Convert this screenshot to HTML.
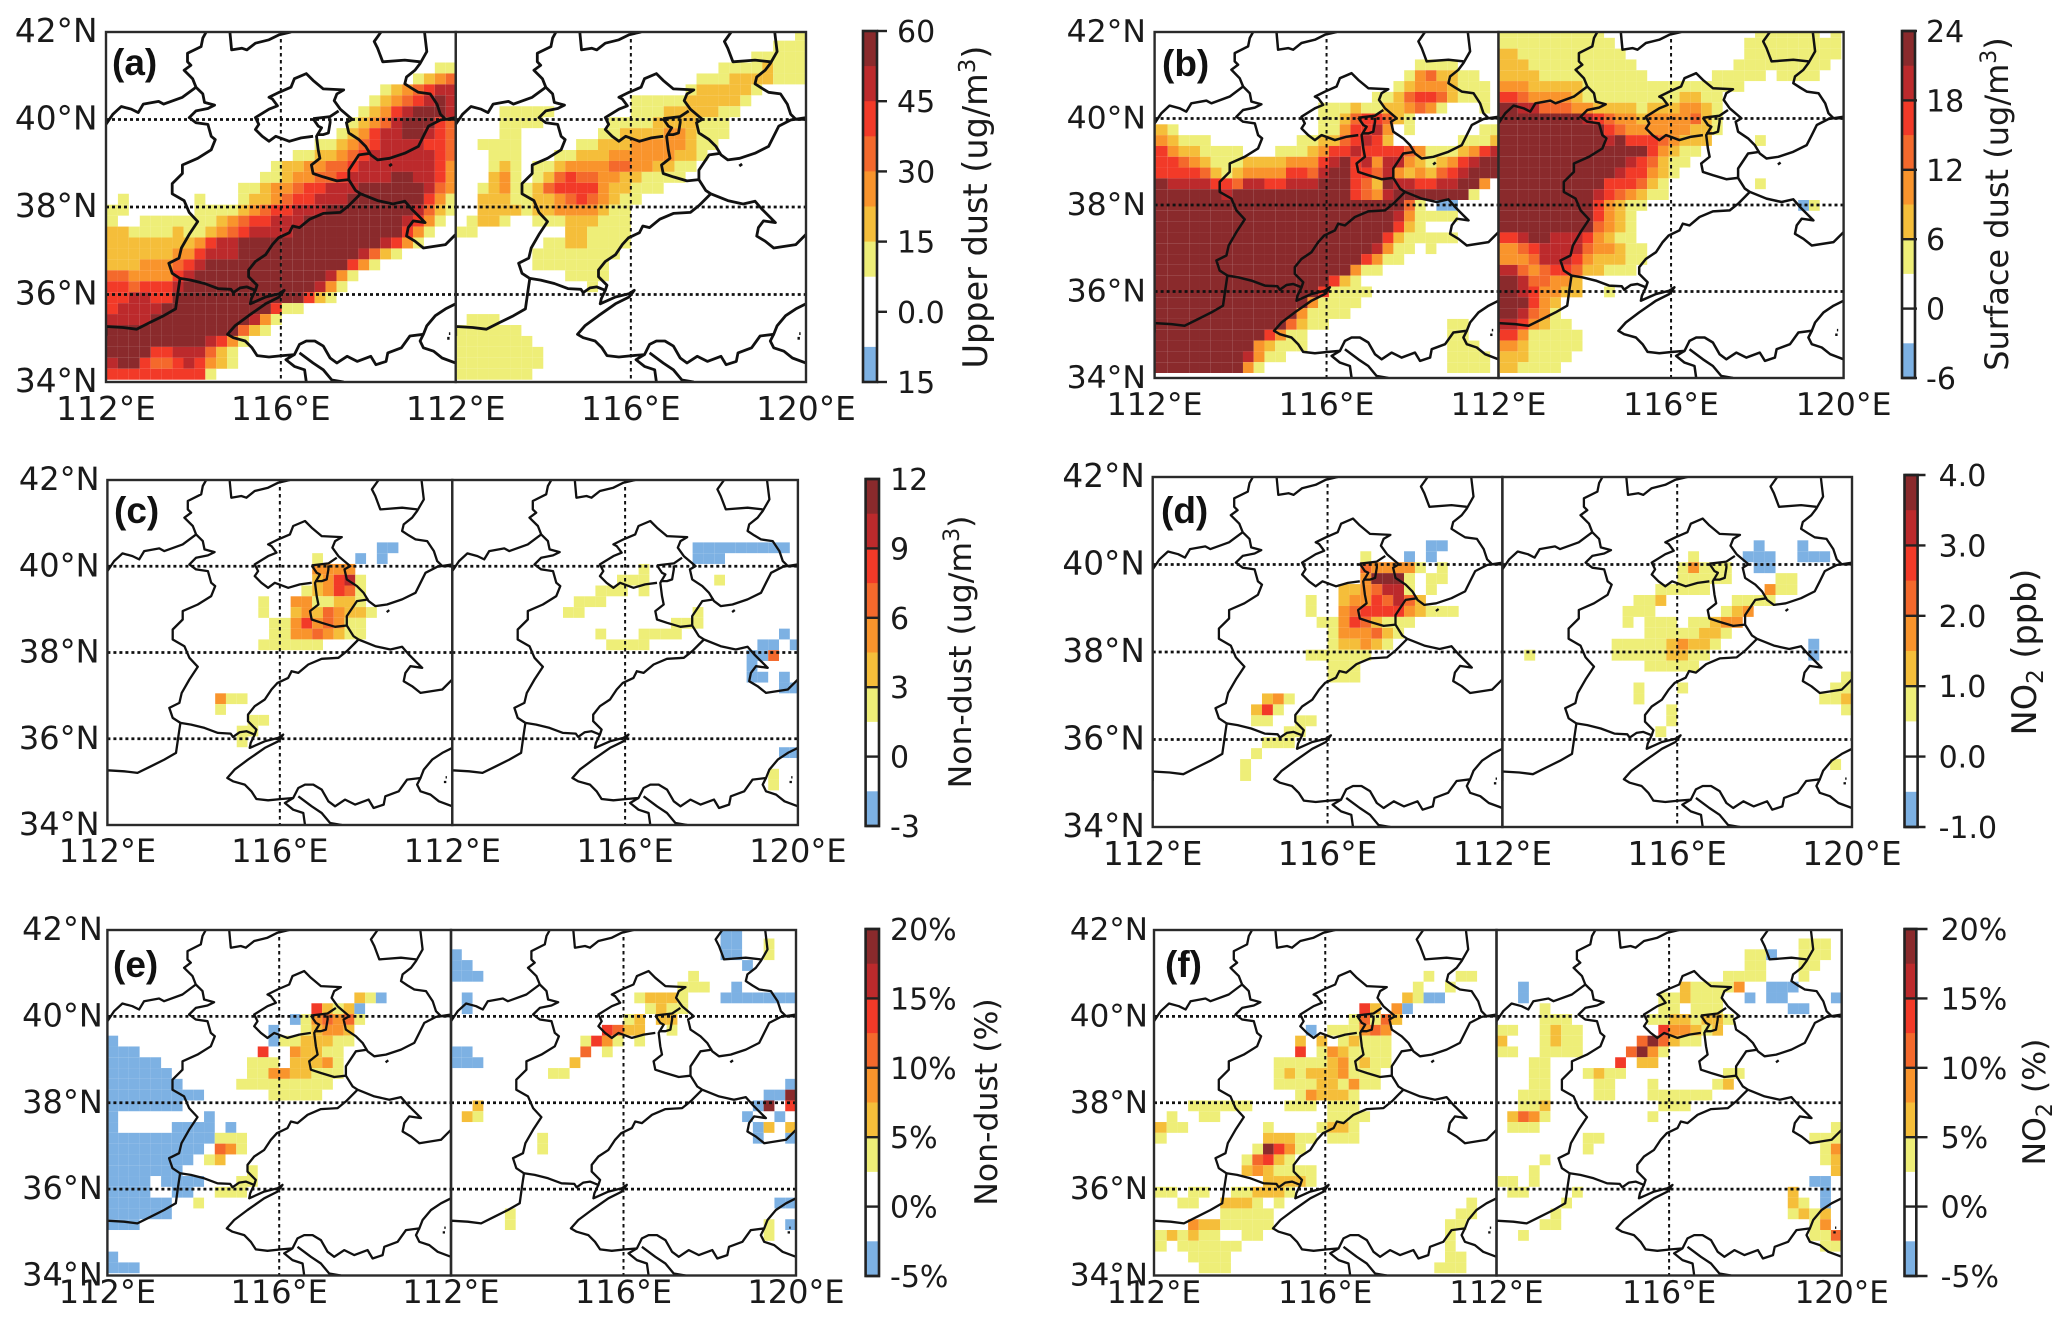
<!DOCTYPE html>
<html lang="en">
<head>
<meta charset="utf-8">
<title>Dust and NO2 difference maps</title>
<style>
html,body{margin:0;padding:0;background:#fff;width:2067px;height:1322px;overflow:hidden}
svg{display:block}
text{font-family:"DejaVu Sans","Liberation Sans",sans-serif;fill:#1a1a1a}
.tag{font-family:"Liberation Sans",sans-serif;font-weight:bold;font-size:37px;fill:#111}
</style>
</head>
<body>
<svg id="figure" xmlns="http://www.w3.org/2000/svg" width="2067" height="1322" viewBox="0 0 2067 1322">
  <rect width="2067" height="1322" fill="#fff"/>
  <g id="plots"></g>
  <text class="tag" x="112" y="75">(a)</text>
  <text class="tag" x="1162" y="76">(b)</text>
  <text class="tag" x="114" y="523">(c)</text>
  <text class="tag" x="1161" y="523">(d)</text>
  <text class="tag" x="113" y="977">(e)</text>
  <text class="tag" x="1165" y="977">(f)</text>
  <text font-size="33.5" text-anchor="middle" transform="translate(987,207) rotate(-90)">Upper dust (ug/m<tspan dy="-12" font-size="23">3</tspan><tspan dy="12">)</tspan></text>
  <text font-size="32" text-anchor="middle" transform="translate(2008,204) rotate(-90)">Surface dust (ug/m<tspan dy="-12" font-size="22">3</tspan><tspan dy="12">)</tspan></text>
  <text font-size="31.5" text-anchor="middle" transform="translate(971,652) rotate(-90)">Non-dust (ug/m<tspan dy="-12" font-size="22">3</tspan><tspan dy="12">)</tspan></text>
  <text font-size="33.5" text-anchor="middle" transform="translate(2036,652) rotate(-90)">NO<tspan dy="7" font-size="23">2</tspan><tspan dy="-7"> (ppb)</tspan></text>
  <text font-size="31.5" text-anchor="middle" transform="translate(997,1102) rotate(-90)">Non-dust (%)</text>
  <text font-size="31.5" text-anchor="middle" transform="translate(2045,1102) rotate(-90)">NO<tspan dy="7" font-size="22">2</tspan><tspan dy="-7"> (%)</tspan></text>
</svg>
<script>
// Heat grids: 32 rows (north to south). Each row lists "column:level" or "from-to:level".
// Levels: 1 yellow ... 7 maroon, 8 blue (negative); unlisted cells are white.
const upperDustLeft = ["","","","30-31:1","28:1 29:2 30:3 31:4","25:1 26:2 27:3 28:4 29:5 30-31:6","24:1 25:2 26:3 27:4 28:5 29:6 30:7 31:6","23:1 24:2 25:3 26:5 27:6 28-30:7 31:6","22:1 23:2 24:3 25:4 26:6 27-29:7 30:5 31:4","21:1 22:2 23:3 24:5 25-26:6 27-28:7 29:6 30:5 31:4","19-20:1 21:2 22:3 23:4 24:5 25-28:6 29-30:5 31:4","17-18:1 19-20:2 21:3 22:4 23:5 24-29:6 30:5 31:4","15:1 16-17:2 18-19:3 20-21:4 22:5 23-29:6 30:5 31:3","14-15:1 16:2 17-18:3 19-20:4 21:5 22-25:6 26-27:7 28-29:6 30:5 31:3","12-13:1 14:2 15-16:3 17:4 18-19:5 20-22:6 23-28:7 29:6 30:4 31:3","1:1 8:1 12:1 13-14:2 15:3 16:4 17-18:5 19-21:6 22-28:7 29:5 30:3 31:1","0-1:1 8-11:1 12:2 13:3 14:4 15-16:5 17-19:6 20-27:7 28:6 29:4 30:2 31:1","0:1 3-9:1 10:2 11:3 12:4 13-14:5 15-17:6 18-26:7 27:6 28:5 29:3 30:1","0-1:2 2-5:1 6:2 7-8:1 9:2 10:3 11:4 12:5 13-16:6 17-26:7 27:5 28:3 29:1","0-7:2 8:3 9:5 10-11:6 12-24:7 25:6 26:5 27:3 28:1","0-5:2 6-7:3 8:5 9-11:6 12-22:7 23:6 24:4 25:2 26:1","0-2:2 3-5:3 6:4 7:5 8:6 9-21:7 22:5 23:3 24:1","0-1:4 2-5:3 6:5 7:6 8-19:7 20:6 21:3 22:1","0-1:5 2:4 3-5:5 6:6 7-18:7 19:6 20:3 21:1","0-1:5 2-3:6 4-5:5 6-17:7 18:5 19:2 20:1","0:5 1-4:6 5-14:7 15:5 16-17:1","0-3:6 4-12:7 13:6 14:3 15:1","0-11:7 12:4 13:2 14:1","0-8:7 9:6 10:5 11:3 12:1","0-3:7 4-5:5 6-8:6 9:4 10:2 11:1","0:6 1-2:7 3:5 4-5:4 6:5 7:6 8:5 9:3 10:2 11:1","0-8:5 9:1"];
const upperDustRight = ["31:1","29-31:1","27-31:1","24-27:1 28:2 29-31:1","22-24:1 25-28:2 29-31:1","21:1 22-26:2 27:1","16-20:1 21-25:2 26:1","4-8:1 16-18:1 19-23:2 24-25:1","4-7:1 14-17:1 18-21:2 22-24:1","4-5:1 13-14:1 15-18:2 19-20:3 21:2 22-24:1","2-5:1 11-12:1 13-15:2 16-20:3 21:2 22-23:1","3:1 4-5:1 9-10:1 11-13:2 14-19:3 20-21:2 22:1","3:1 4:2 5:1 7-8:1 9:2 10-13:3 14-15:4 16-17:3 18-19:2 20-21:1","3:2 4:3 5:1 7:1 8:2 9:4 10:5 11-12:4 13-14:3 15-16:2 17-20:1","2:1 3:2 4:3 5:1 6:1 7:2 8:4 9-12:5 13:3 14-15:2 16-18:1","2-4:2 5:1 6:1 7-8:2 9:3 10:4 11:5 12:4 13:3 14:2 15-16:1","2-5:2 6:1 7-8:2 9-12:3 13:2 14-15:1","1:1 2-3:2 4:1 7-9:1 10-12:2 13-15:1","0-1:1 10-11:2 12-15:1","8-9:1 10-11:2 12-15:1","7-14:1","7-13:1","10-13:1","12:1","","","1-3:1","0-5:1","0-6:1","0-7:1","0-7:1","0-6:1"];
const surfaceDustLeft = ["","","","24-27:1","23:1 24:3 25:4 26-27:2 28-29:1","22:1 23:2 24-26:3 27:2 28-30:1","20-21:1 22:2 23:4 24-25:5 26:4 27:2 28-30:1","15-17:1 18:2 19-20:1 21-22:2 23:3 24:4 25:3 26:1 30:1","15-16:1 17:2 18:4 19-20:5 21:4 22:2 23:1","0:2 1:1 15-16:1 17:3 18-19:5 20:6 21:3 23:1 30-31:1","0:3 1:2 2-4:1 13-14:1 15-16:2 17:4 18:5 19:6 20:5 21:2 28-30:1 31:2","0:5 1:3 2-3:2 4-7:1 11-13:1 14:2 15:3 16-17:5 18:6 19-22:5 23:4 24:3 25-27:1 28:2 29:3 30:5 31:6","0-1:5 2:4 3:3 4:2 5-7:1 8-11:2 12-14:3 15:5 16:6 17:7 18:5 19:6 20:3 21-22:6 23:3 24:2 25:1 26:2 27:3 28:5 29:6 30-31:7","0-3:5 4:4 5:2 6:1 7:2 8-11:3 12-13:5 14:4 15:6 16-17:7 18-19:5 20:4 21:6 22:3 23:2 24:3 25:2 26:4 27:5 28:6 29-31:7","0:7 1-4:6 5-6:5 7:4 8-9:6 10-11:5 12-14:6 15-17:7 18:5 19:4 20:2 21:7 22-23:6 24-25:5 26-27:6 28-29:7 30:3","0-5:7 6:6 7-17:7 18:5 19:4 20:3 21:6 22-28:7 29:1","0-22:7 23:4 24:1 26-27:8","0-21:7 22:6 23:3 24-27:1","0-21:7 22:5 23:2 24:1","0-20:7 21:5 22:2 23-27:1","0-19:7 20:6 21:3 22-23:1 25:1","0-18:7 19:5 20:3 21-22:1","0-17:7 18:3 19-20:1","0-15:7 16:5 17:2 18:1","0-14:7 15:5 16-19:1","0-13:7 14:3 15-18:1","0-12:7 13:3 14-17:1","0-11:7 12:4 13:2 14-15:1 27-28:1","0-9:7 10:5 11:3 12-13:1 27-28:1","0-8:7 9:3 10:2 11-13:1 27-29:1","0-7:7 8:6 9:3 10-11:1 27-30:1","0-7:7 8:3 9:1 27-30:1"];
const surfaceDustRight = ["0-8:1 23-28:1 30:1","0-9:1 22-30:1","0:2 1-10:1 22-30:1","0-1:2 2-11:1 21-29:1","0-2:2 3-12:1 19-23:1 25-28:1","0-1:3 2-6:2 7-21:1","0:5 1:4 2-5:3 6:2 7-15:1 16-17:2 18-19:1","0:7 1-2:6 3-5:4 6-7:3 8-11:2 12:1 13-15:2 16-17:3 18:2 19:1","0-6:7 7:6 8:5 9:4 10-11:3 12:2 13-16:3 17:4 18:2 19:1","0-8:7 9:5 10:4 11-16:3 17-18:2 19:1","0-8:7 9:6 10:7 11-13:5 14:4 15:3 16-18:2 23:1","0-12:7 13:5 14:3 15:2 16-17:1","0-10:7 11:6 12:5 13:4 14:2 15-16:1","0-9:7 10:6 11-12:5 13:3 14:2 15:1","0-8:7 9-11:5 12:4 13:2 14:1 23:1","0-7:7 8:6 9:5 10:4 11:3 12:2 13-14:1","0-7:7 8:5 9:3 10:2 11-12:1 27:8 28:1","0-7:7 8:5 9:3 10:2 11:1","0-7:7 8:4 9:3 10:2 11:1","0:5 1:6 2-3:7 4-6:6 7:5 8:3 9:2 10-11:1","0:3 1:4 2:5 3-6:6 7:4 8-9:3 10:2 11-12:1","0-1:3 2:4 3-5:6 6:5 7:3 8-10:2 11-12:1","0:6 1:4 2:3 3:4 4-5:5 6:4 7-8:2 9-11:1","0:7 1:6 2-3:4 4-5:3 6:2","0:7 1:6 2:5 3-4:3 5-6:2 9:1","0-1:7 2:5 3:3 4:2","0:7 1:6 2:4 3:3 4:1","0:6 1:5 2:3 3:2 4-5:1","0:5 1:3 2-6:1","0:3 1:2 2-6:1","0-1:2 2-5:1","0:2 1-4:1"];
const nonDustLeft = ["","","","","","","25-26:8","19:1 23:8 25:8","19-22:3","19:2 20:3 21:5 22:6 23:1","18:1 19:2 20:3 21:5 22:4 23:1","14:1 17-18:3 19-20:1 21-22:2 23:1","14:1 17:2 18:3 19:2 20:4 21:3 22-23:2 24:1","15-16:1 17:3 18:5 19:3 20:4 21:3 22-23:1","15-16:1 17-18:3 19:4 20:3 21:2 22-23:1","14-18:1 19:1","","","","","10:3 11-12:1","10:1","13-14:1","12-13:1","12:1","","","","","","",""];
const nonDustRight = ["","","","","","","22-30:8","22-24:8","17:1","15-17:1 24:1","13-15:1 17:1","11:1 12-13:1","10-11:1 22:1","20-22:1","13:1 17-20:1 30:8","14-17:1 28-29:8 31:8","27-28:8 29:4","27:8","27-28:8 30:8","30-31:8","","","","","","30-31:8","","29:1","29:1","","",""];
const no2Left = ["","","","","","","25-26:8","19:1 23:8 25:8","19:4 20-23:3 24:1 26:1","19:3 20-22:7 23:1 25-26:1","17-18:2 19:3 20:4 21-22:6 23:1 25:1","14:1 17:2 18-19:3 20:5 21:4 22:6 23:4 24:2","14:1 17:3 18:4 19-22:5 23:3 24:2 25-27:1","15-16:1 17:3 18:5 19:4 20:2 21-23:1","16:1 17-19:3 20:4 21:2 22:1","16:1 17-18:2 19:3 20:2 21:1","14-19:1","16-18:1","16-18:1","","10:2 11:3 12:1","9:2 10:5 11:1","9-10:1 13-14:1","12-13:1","10-12:1","9:1","8:1","8:1","","","",""];
const no2Right = ["","","","","","","23:8 27:8","17:1 22-24:8 27-29:8","16:1 17:3 18-19:1 20:1 23-24:8","16-19:1 20:1 25-26:1","14-18:1 24:3 25-26:1","12-13:1 14:2 21-24:1","11-13:1 20:1 21:2 22:3","11:1 13-15:1 17-18:1 19:2 20-21:3","13-17:1 18-19:2 20:1","10-14:1 15:2 16:3 17-18:2 19:1 28:8","2:1 10-14:1 15-16:2 17-18:1 28:8","13-17:1","31:1","12:1 16:1 30-31:1","12:1 29-30:1 31:2","15:1 31:1","15:1","14:1","","","30:1","","","","",""];
const nonDustPctLeft = ["","","","","","","23:2 24:1 25:8","19:5 20:2 21:1 22:2 23:8","17:8 18:1 19:3 20:4 21:3 22:4 23:1","15:8 18:1 19:2 20-21:3 22:2","0:8 15:8 16-17:1 18-19:2 20:2 21-22:1","0-2:8 14:5 17:3 18-19:2 20-21:1","0-4:8 13-15:1 17-19:2 20:3 21:1","0-5:8 13-14:1 15-16:3 17-18:2 19-21:1","0-6:8 12-20:1","0-8:8 15-19:1","0-6:8","0:8 9:8","0:8 6-9:8 11:8","0-9:8 10-12:1","0-8:8 10:4 11:3 12:1","0-7:8 9:1 10:2","0-6:8 13:1","0-3:8 5-8:8 12-13:1","0-3:8 6-7:8 10-12:1","0-5:8 8:1","0-5:8","0-2:8","","","0:8","0-2:8"];
const nonDustPctRight = ["25-26:8","25-26:8 29:1","0:8 25-26:8 29:1","0-1:8 27:8","0-2:8 22:1","21-23:1 26:8","1:8 17:1 18:2 19-20:2 21:1 25-31:8","1:8 18:1 19:2 20-21:1","16:1 17:2 19:2 20:2","14:5 15:4 16-17:2 20:1","12:1 13:5 14:3 15:1 17:1","0-1:8 12:4 14:1","0-2:8 11:2","9-10:1","31:8","29-30:8 31:7","2:2 28:8 29:7 31:5","1:2 2:1 27:8 30:8","28:8 29:2 31:2","8:1 28:8 31:8","8:1","","","","","30-31:8","5:1","5:1 29:1 31:8","29:1","","",""];
const no2PctLeft = ["","","","","25:1 28-29:1","24:1 27:1","23:2 24:1 25-26:8","19:5 20:2 22:3 23:8","18:1 19:4 20:1 21:4 22:2","14:8 16-18:1 19:3 20:4 21:3","13:2 15:2 17:1 18:2 19-21:1","13:5 15:1 16:3 17:2 18-21:1","11-15:1 16:2 17:3 18:1 19:2 20-21:1","11:1 12:2 13:1 14-16:2 17:3 18-20:1","11-14:1 15-16:2 17:1 18:3 19-20:1","13:1 14:3 15-17:2 18:1","3-8:1 12-14:1 16-18:1","1:1 4-5:1 16-19:1","0:2 1-2:1 10:1 15:1 16-17:2 18:1","0:1 10-12:2 13-14:1 16-18:1","9:1 10:7 11:5 12:3 13:1","8:1 9:4 10:5 11:2 12:1","8:2 9:3 10:2 11-14:1","10-11:2 12-13:2 14:1","0-1:1 3-4:1 7-8:1 9-11:2 12:1","2-3:1 6:2 7-8:2 9:1 11:1 29:1","6-10:1 28-29:1","3:3 4-5:2 6-10:1 27-28:1","0:1 1:2 2:1 3:2 4-5:1 8-9:1 27:1","0:1 2-7:1 27:1","3-6:1 27-28:1","4-6:1 26-28:1"];
const no2PctRight = ["","28-30:1","23-24:1 25:8 28-30:1","23-24:1 28-29:1","21-24:1 28:1","2:8 17:2 18-21:1 22:3 25-27:8","2:8 15-16:1 17:2 18-20:1 23:8 25-26:8 31:8","4:1 15-16:1 18-20:1 27-28:8","4-6:1 14-15:1 16-17:2 18:1 19-20:2 21:1","0-1:1 4:1 5:2 6-7:1 15:5 16-17:3 18:2 19:1 20:2","0:2 4:1 5:2 6-7:1 13:4 14:7 15:4 16:2 17-18:1","0-1:1 4-7:1 12:4 13:7 14:3 15:1","3-4:1 11:5 13-14:2","3-4:1 8:1 9:2 10-11:1 21-22:1","3-4:1 9-10:1 14:1 20:1 21:2","2-4:1 9-10:1 14-19:1","2-3:1 4:2 15-17:1","1:2 2:4 3:3 4:1 14:1","1-3:1 31:1","8-9:1 29-31:1","8:1 30:1 31:3","4:1 30:1 31:2","3:1 31:2","0-1:1 3:1 29-30:8","1-2:1 7:1 27:2 30:8","6:1 27:2 28:1 30:8","5:1 27:1 28:2 29:1 30:2","4-5:1 29:1 30:3","2:1 29-30:1 31:4","30-31:1","",""];

// Administrative boundaries as traced polylines (trace units: x 0-1030 = 112-120E, y 12-1046 = 42-34N).
const boundaryNorthWest = [295,12,285,30,280,55,240,75,240,100,250,110,230,125,255,150,265,175,285,195,290,220,320,228,300,238,265,245,245,265,265,280,300,285,310,320,322,330,310,360,270,385,225,405,225,430,195,460,195,490,230,510,245,545,270,572,245,610,222,650,215,680,185,695,195,725,218,740];
const boundaryWestTop = [0,285,20,255,45,232,75,240,95,250,110,225,155,217,170,225,225,205,265,175];
const boundaryEastWest = [218,740,250,745,290,755,330,770,368,772,375,782,395,768,415,765,440,775,445,760,420,735,420,715,440,690,470,670,490,640,508,620,540,605,550,585,570,590,600,565,640,548,690,545,715,525,735,505,750,490];
const boundarySouthWest = [218,740,212,780,205,830,170,850,130,870,90,890,50,885,0,882,0,910];
const boundaryNarrowStrip = [440,775,428,800,425,815,470,795,510,785,525,775,510,795,470,815,420,850,380,880,358,905,375,915,410,925,430,945,445,968,480,972,520,968,555,965,570,935,590,925,615,925,640,940,660,975,680,990,710,970,740,985,780,970,795,995,825,985,830,960,870,945,895,910,935,905,945,880,970,850,1000,830,1030,815];
const boundaryBottomA = [555,965,530,980,555,1000,585,1010,590,1046];
const boundaryBottomB = [570,960,610,990,640,1010,665,1040,700,1046];
const boundaryBottomRight = [935,905,925,925,935,945,965,955,990,975,1030,990];
const boundaryNorthEast = [1030,270,1000,270,985,255,975,225,955,195,920,190,900,178,880,165,885,145,910,125,925,105,945,70,938,12];
const boundaryNorthEastInner = [925,100,880,95,815,100,800,60,790,40,810,12];
const boundaryTopLoop = [365,12,370,65,400,60,415,65,440,45,480,35,510,20,545,12];
const boundaryBeijing = [610,320,575,325,540,335,500,320,480,335,460,320,440,300,450,285,440,265,480,240,505,230,490,210,480,205,510,190,545,175,555,150,590,135,610,155,640,180,700,183,680,195,672,215,690,240,725,270,708,280,715,310,745,330,765,350,780,375,800,390,835,385,880,370,920,350,935,320,950,290,985,272,1030,265];
const boundaryTianjin = [610,268,660,262,685,245];
const boundaryTianjinInner = [610,268,625,290,635,295,620,320,625,360,630,385,605,405,610,430,640,440,680,452,715,448];
const boundaryTianjinEast = [660,268,660,280,655,310,640,315,620,315];
const boundaryShandongNorth = [715,448,735,480,750,490,800,510,845,520,880,512,900,535,925,560,940,575,905,570,890,590,885,615,910,630,935,650,1000,640,1030,610];
const boundaryBohai = [715,448,715,420,745,375,780,370];
const boundaryIslets = [834,408,842,402];
const boundaryIsletsB = [1005,917,1012,917];
const boundaryIsletsC = [1010,903,1014,903];

const boundaryLines = [boundaryNorthWest,boundaryWestTop,boundaryEastWest,boundarySouthWest,boundaryNarrowStrip,boundaryBottomA,boundaryBottomB,boundaryBottomRight,boundaryNorthEast,boundaryNorthEastInner,boundaryTopLoop,boundaryBeijing,boundaryTianjin,boundaryTianjinInner,boundaryTianjinEast,boundaryShandongNorth,boundaryBohai,boundaryIslets,boundaryIsletsB,boundaryIsletsC];

// Axis ticks
const lonTicks = [112,116];
const lonEndTick = 120;
const latTicks = [42,40,38,36,34];
const latGrid = [40,38,36];
const lonGrid = [116];

// Colour bar tick labels, top to bottom
const upperDustTicks = ["60","45","30","15","0.0","15"];
const surfaceDustTicks = ["24","18","12","6","0","-6"];
const nonDustTicks = ["12","9","6","3","0","-3"];
const no2Ticks = ["4.0","3.0","2.0","1.0","0.0","-1.0"];
const pctTicks = ["20%","15%","10%","5%","0%","-5%"];

// Colour scale, indexed by level (0 white ... 7 maroon, 8 blue)
const levelColors = ["#ffffff","#eeee78","#f5be3a","#f9942c","#f4692c","#f23a28","#bc2a2c","#8a2a2c","#7db1e3"];
// Colour bar intervals from top to bottom as levels
const colorbarLevels = [7,6,5,4,3,2,1,0,0,8];

// Layout
const layouts = [
 {id:"a",x0:106,xm:455.7,x1:806,y0:32,y1:382,dy:-2.3,dxL:1,dxR:0,sw:2.8,fs:32.8,lblRight:97.5,lblBase:420,left:upperDustLeft,right:upperDustRight,ticks:upperDustTicks,cb:[863,877,31,382],tickIn:false,tickTo:887,cbText:897},
 {id:"b",x0:1154.6,xm:1498.5,x1:1843.6,y0:32,y1:378,dy:-5,dxL:2.4,dxR:8.5,sw:2.5,fs:31.5,lblRight:1146,lblBase:415,left:surfaceDustLeft,right:surfaceDustRight,ticks:surfaceDustTicks,cb:[1902,1915,31,378],tickIn:true,tickTo:1917,cbText:1926},
 {id:"c",x0:107.4,xm:452.3,x1:797.9,y0:480,y1:825,dy:-2.3,dxL:0,dxR:2.7,sw:2.3,fs:32,lblRight:99.5,lblBase:862,left:nonDustLeft,right:nonDustRight,ticks:nonDustTicks,cb:[865.6,879,479,826],tickIn:true,tickTo:880,cbText:890},
 {id:"d",x0:1152.7,xm:1502.4,x1:1852,y0:477,y1:827,dy:-2.3,dxL:0,dxR:0,sw:2.3,fs:32.7,lblRight:1144.8,lblBase:865,left:no2Left,right:no2Right,ticks:no2Ticks,cb:[1904.5,1917.6,475,827],tickIn:true,tickTo:1925.5,cbText:1938.6},
 {id:"e",x0:107.4,xm:451,x1:796,y0:930,y1:1275.5,dy:-2.3,dxL:0,dxR:0,sw:2.3,fs:32,lblRight:102.8,lblBase:1303,left:nonDustPctLeft,right:nonDustPctRight,ticks:pctTicks,cb:[865.6,879,929,1276],tickIn:true,tickTo:880,cbText:890},
 {id:"f",x0:1154,xm:1496.5,x1:1841.7,y0:930,y1:1275.5,dy:-2.3,dxL:2,dxR:0,sw:2.3,fs:31,lblRight:1148,lblBase:1303,left:no2PctLeft,right:no2PctRight,ticks:pctTicks,cb:[1904.5,1916.3,929,1276],tickIn:true,tickTo:1927.5,cbText:1940.6}
];

const SVG_NS = "http://www.w3.org/2000/svg";
const root = document.getElementById("plots");
function make(tag, attrs, parent){
  const node = document.createElementNS(SVG_NS, tag);
  for (const k in attrs) node.setAttribute(k, attrs[k]);
  parent.appendChild(node);
  return node;
}
function lonOfTrace(t){ return 112 + t / 128.75; }
function latOfTrace(t){ return 42 - (t - 12) / 129.25; }
function parseRow(row){
  const out = [];
  row.split(" ").filter(Boolean).forEach(function(tok){
    const p = tok.split(":");
    const range = p[0].split("-");
    const from = +range[0];
    const to = range.length > 1 ? +range[1] : from;
    for (let c = from; c <= to; c++) out.push([c, +p[1]]);
  });
  return out;
}

function drawMap(L, side, px0, px1, group){
  const xScale = function(lon){ return px0 + (lon - 112) / 8 * (px1 - px0); };
  const yScale = function(lat){ return L.y0 + (42 - lat) / 8 * (L.y1 - L.y0); };
  const dx = side === "left" ? L.dxL : L.dxR;
  const clipId = "clip-" + L.id + "-" + side;
  const defs = make("defs", {}, group);
  const clip = make("clipPath", {id: clipId}, defs);
  make("rect", {x: px0, y: L.y0, width: px1 - px0, height: L.y1 - L.y0}, clip);
  const cells = make("g", {"clip-path": "url(#" + clipId + ")"}, group);
  
  
  const rows = side === "left" ? L.left : L.right;
  rows.forEach(function(row, r){
    parseRow(row).forEach(function(cell){
      const c = cell[0], level = cell[1];
      if (!level) return;
      const xStart = xScale(112 + c * 0.25) + dx;
      const x = c === 0 ? px0 : xStart;
      const xEnd = xScale(112 + (c + 1) * 0.25) + dx;
      const y = yScale(42 - r * 0.25) + L.dy;
      const yEnd = yScale(42 - (r + 1) * 0.25) + L.dy;
      const rect = make("rect", {x: x, y: y, width: xEnd - x, height: yEnd - y, fill: levelColors[level]}, cells);
      
      
    });
  });
  const grid = make("g", {"clip-path": "url(#" + clipId + ")"}, group);
  
  
  latGrid.forEach(function(lat){
    const line = make("line", {x1: px0, x2: px1, y1: yScale(lat), y2: yScale(lat), stroke: "#111", "stroke-width": 2.8, "stroke-dasharray": "3 3"}, grid);
    
    
  });
  lonGrid.forEach(function(lon){
    const line = make("line", {x1: xScale(lon), x2: xScale(lon), y1: L.y0, y2: L.y1, stroke: "#111", "stroke-width": 2, "stroke-dasharray": "3.5 3.5"}, grid);
    
    
  });
  const bounds = make("g", {"clip-path": "url(#" + clipId + ")", fill: "none", stroke: "#111", "stroke-width": L.sw, "stroke-linejoin": "round"}, group);
  
  
  boundaryLines.forEach(function(pts){
    let d = "";
    for (let i = 0; i < pts.length; i += 2){
      d += (i ? "L" : "M") + xScale(lonOfTrace(pts[i])).toFixed(1) + " " + yScale(latOfTrace(pts[i + 1])).toFixed(1);
    }
    const path = make("path", {d: d}, bounds);
    
    
  });
  const frame = make("rect", {x: px0, y: L.y0, width: px1 - px0, height: L.y1 - L.y0, fill: "none", stroke: "#2a2a2a", "stroke-width": 2.4}, group);
  
  
  const labels = lonTicks.slice();
  if (side === "right") labels.push(lonEndTick);
  labels.forEach(function(lon){
    const t = make("text", {x: xScale(lon), y: L.lblBase, "text-anchor": "middle", "font-size": L.fs}, group);
    t.textContent = lon + "\u00B0E";
    
    
  });
  if (side === "left"){
    latTicks.forEach(function(lat){
      const t = make("text", {x: L.lblRight, y: yScale(lat) + 10, "text-anchor": "end", "font-size": L.fs}, group);
      t.textContent = lat + "\u00B0N";
      
      
    });
  }
}

function drawColorbar(L, group){
  const x0 = L.cb[0], x1 = L.cb[1], y0 = L.cb[2], y1 = L.cb[3];
  const step = (y1 - y0) / colorbarLevels.length;
  colorbarLevels.forEach(function(level, i){
    const seg = make("rect", {x: x0, y: y0 + i * step, width: x1 - x0, height: step + 0.4, fill: levelColors[level]}, group);
    
    
  });
  const outline = make("rect", {x: x0, y: y0, width: x1 - x0, height: y1 - y0, fill: "none", stroke: "#222", "stroke-width": 2.6}, group);
  
  
  const tickStep = (y1 - y0) / (L.ticks.length - 1);
  L.ticks.forEach(function(label, i){
    const y = y0 + i * tickStep;
    const tick = make("line", {x1: L.tickIn ? x0 : x1, x2: L.tickTo, y1: y, y2: y, stroke: "#222", "stroke-width": 2.4}, group);
    
    
    const t = make("text", {x: L.cbText, y: y + 11, "font-size": 30}, group);
    t.textContent = label;
    
    
  });
}

layouts.forEach(function(L){
  const panel = make("g", {}, root);
  
  
  drawMap(L, "left", L.x0, L.xm, panel);
  drawMap(L, "right", L.xm, L.x1, panel);
  const bar = make("g", {}, panel);
  
  
  drawColorbar(L, bar);
});
</script>
</body>
</html>
